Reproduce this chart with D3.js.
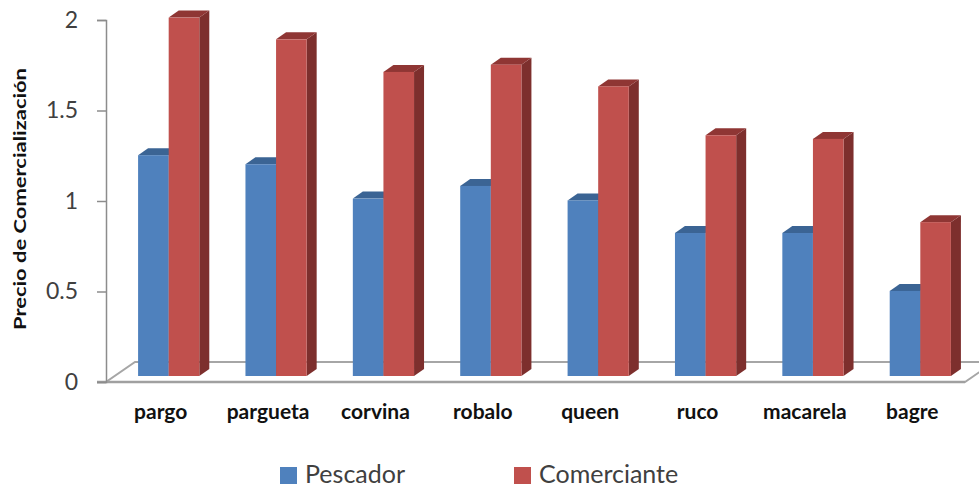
<!DOCTYPE html>
<html>
<head>
<meta charset="utf-8">
<script src="https://cdn.jsdelivr.net/npm/d3@7"></script>
<style>
  html, body { margin: 0; padding: 0; background: #fff; }
  svg { display: block; font-family: Lato, "Open Sans", sans-serif; }
</style>
</head>
<body>
<svg id="chart" width="979" height="488"></svg>
<script>
// data
const categories = ['pargo', 'pargueta', 'corvina', 'robalo', 'queen', 'ruco', 'macarela', 'bagre'];
const seriesNames = ['Pescador', 'Comerciante'];
const pescador = [1.22, 1.17, 0.98, 1.05, 0.97, 0.79, 0.79, 0.47];
const comerciante = [1.98, 1.86, 1.68, 1.72, 1.60, 1.33, 1.31, 0.85];
const yTicks = [0, 0.5, 1, 1.5, 2];

const colors = {
  Pescador:    { front: '#4f81bd', top: '#3b6494', side: '#2f5180' },
  Comerciante: { front: '#c0504d', top: '#8f3634', side: '#7d2f2d' }
};

const svg = d3.select('#chart');

// 3d offsets (depth of floor, depth of bars, bars sit a bit back from the front edge)
const floorDx = 29, floorDy = -20;
const barDx = 10, barDy = -7;
const barLift = 6;

const y = d3.scaleLinear().domain([0, 2]).range([382, 20]);
const x0 = d3.scaleBand().domain(categories).range([115, 974]).paddingInner(0.43).paddingOuter(0.215);
const x1 = d3.scaleBand().domain(seriesNames).range([0, x0.bandwidth()]);

// floor
const fx0 = 106, fx1 = 965, fy = y(0);
svg.append('polygon')
  .attr('points', [[fx0, fy], [fx1, fy], [fx1 + floorDx, fy + floorDy], [fx0 + floorDx, fy + floorDy]].join(' '))
  .attr('fill', '#fff')
  .attr('stroke', '#a6a6a6')
  .attr('stroke-width', 2);
svg.append('line')
  .attr('x1', 97).attr('x2', fx1).attr('y1', fy).attr('y2', fy)
  .attr('stroke', '#a0a0a0').attr('stroke-width', 2.5);

// value axis
const axisG = svg.append('g').attr('transform', `translate(${fx0},0)`)
  .call(d3.axisLeft(y).tickValues(yTicks).tickSize(9).tickPadding(19).tickFormat(d3.format('')));
axisG.select('.domain').attr('stroke', '#8c8c8c').attr('stroke-width', 1.5);
axisG.selectAll('.tick line').attr('stroke', '#8c8c8c').attr('stroke-width', 1.5);
axisG.selectAll('.tick text')
  .attr('fill', '#404040')
  .style('font-size', '23px')
  .style('font-family', 'Lato, sans-serif');

svg.append('text')
  .attr('transform', 'translate(26,199) rotate(-90)')
  .attr('text-anchor', 'middle')
  .attr('font-weight', 'bold')
  .attr('font-size', 17)
  .attr('textLength', 262)
  .attr('lengthAdjust', 'spacingAndGlyphs')
  .attr('fill', '#111')
  .text('Precio de Comercialización');

// bars
const rows = categories.map((c, i) => ({ cat: c, Pescador: pescador[i], Comerciante: comerciante[i] }));
const barsG = svg.append('g');
rows.forEach(r => {
  seriesNames.forEach(s => {
    const c = colors[s];
    const xl = x0(r.cat) + x1(s);
    const xr = xl + x1.bandwidth();
    const yt = y(r[s]) - barLift;
    const yb = y(0) - barLift;
    const g = barsG.append('g');
    // side
    g.append('polygon')
      .attr('points', [[xr, yb], [xr + barDx, yb + barDy], [xr + barDx, yt + barDy], [xr, yt]].join(' '))
      .attr('fill', c.side);
    // top
    g.append('polygon')
      .attr('points', [[xl, yt], [xr, yt], [xr + barDx, yt + barDy], [xl + barDx, yt + barDy]].join(' '))
      .attr('fill', c.top);
    // front
    g.append('rect')
      .attr('x', xl).attr('y', yt)
      .attr('width', xr - xl).attr('height', yb - yt)
      .attr('fill', c.front);
  });
});

// category labels
svg.append('g').selectAll('text')
  .data(categories)
  .join('text')
  .attr('x', d => x0(d) + x0.bandwidth() / 2 - 8)
  .attr('y', 419)
  .attr('text-anchor', 'middle')
  .attr('font-weight', 'bold')
  .attr('font-size', 21)
  .attr('fill', '#111')
  .text(d => d);

// legend
const legendX = { Pescador: 280, Comerciante: 514 };
const lg = svg.append('g');
seriesNames.forEach(s => {
  lg.append('rect')
    .attr('x', legendX[s]).attr('y', 467)
    .attr('width', 17).attr('height', 17)
    .attr('fill', colors[s].front);
  lg.append('text')
    .attr('x', legendX[s] + 25).attr('y', 483)
    .attr('font-size', 25)
    .attr('fill', '#404040')
    .text(s);
});
</script>
</body>
</html>
